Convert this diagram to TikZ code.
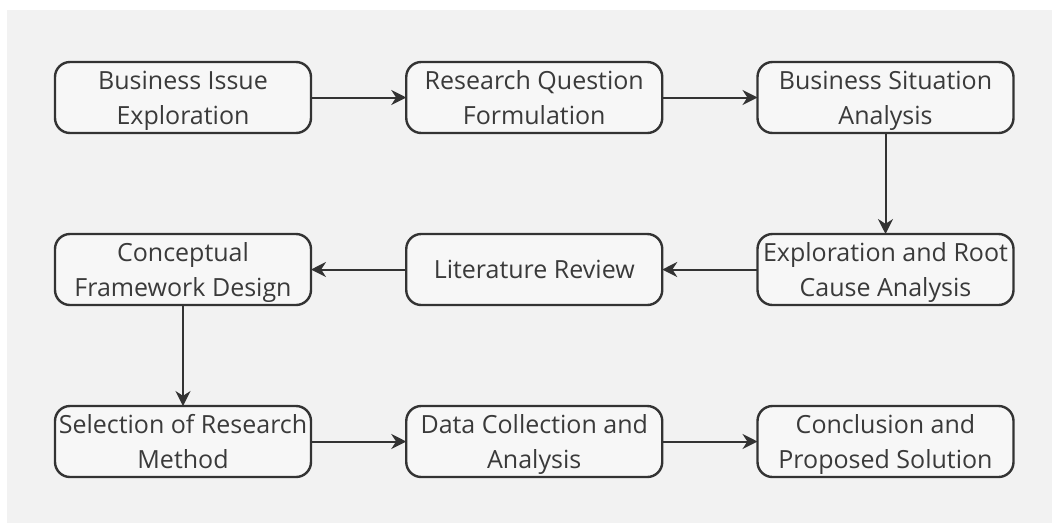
\documentclass[tikz,border=0pt]{standalone}
\usepackage{fontspec}
\setmainfont{Open Sans}
\usepackage{xcolor}
\usetikzlibrary{arrows.meta, positioning}

\definecolor{bggray}{HTML}{F2F2F2}
\definecolor{linegray}{HTML}{333333}
\definecolor{txtgray}{HTML}{3A3A3A}

\begin{document}
\begin{tikzpicture}[
  x=1pt, y=1pt,
  node distance=101pt and 95.25pt,
  box/.style={draw=linegray, line width=2.4pt, rectangle, rounded corners=15pt,
              fill=bggray!60!white, minimum height=71pt, minimum width=256pt,
              inner sep=0pt, outer sep=0pt, text depth=0pt, align=center,
              text=txtgray, font=\fontsize{25}{35}\selectfont},
  arr/.style={-{Stealth[length=15pt, width=15pt]}, line width=2pt, draw=linegray}
]
  \useasboundingbox (0,0) rectangle (1052,-523);
  \fill[bggray] (7,-10) rectangle (1052,-523);

  % first row
  \node[box] (issue) at (183,-97.5) {Business Issue\\Exploration};
  \node[box, right=of issue]    (question)  {Research Question\\Formulation};
  \node[box, right=of question] (situation) {Business Situation\\Analysis};

  % second row
  \node[box, below=of situation] (rootcause)  {Exploration and Root\\Cause Analysis};
  \node[box, left=of rootcause]  (literature) {Literature Review};
  \node[box, left=of literature] (framework)  {Conceptual\\Framework Design};

  % third row
  \node[box, below=of framework] (method)     {Selection of Research\\Method};
  \node[box, right=of method]    (collection) {Data Collection and\\Analysis};
  \node[box, right=of collection] (conclusion) {Conclusion and\\Proposed Solution};

  \draw[arr] (issue)      -- (question);
  \draw[arr] (question)   -- (situation);
  \draw[arr] (situation)  -- (rootcause);
  \draw[arr] (rootcause)  -- (literature);
  \draw[arr] (literature) -- (framework);
  \draw[arr] (framework)  -- (method);
  \draw[arr] (method)     -- (collection);
  \draw[arr] (collection) -- (conclusion);
\end{tikzpicture}
\end{document}
